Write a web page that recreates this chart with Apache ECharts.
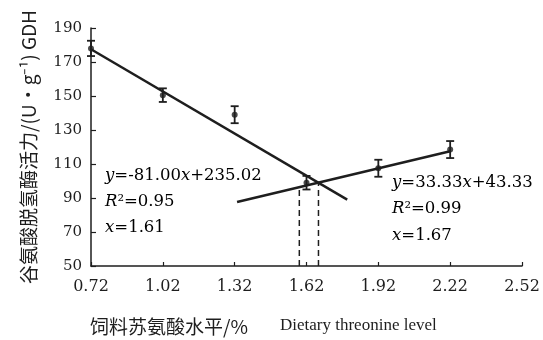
<!DOCTYPE html>
<html><head><meta charset="utf-8">
<script src="https://cdn.jsdelivr.net/npm/echarts@6/dist/echarts.min.js"></script>
<style>html,body{margin:0;padding:0;background:#fff}#c{width:543px;height:340px}</style>
</head><body><div id="c"></div>
<script>
// ---- data ----
const xTicks = [0.72, 1.02, 1.32, 1.62, 1.92, 2.22, 2.52];
const yTicks = [50, 70, 90, 110, 130, 150, 170, 190];
const levels = [0.72, 1.02, 1.32, 1.62, 1.92, 2.22];
const gdh    = [178, 150.5, 139, 99, 107.5, 118.5];
const sd     = [4.5, 4, 5, 4, 5, 5];
const fit1   = [[0.72, 177.5], [1.79, 89]];
const fit2   = [[1.33, 87.7], [2.22, 117.5]];
const breakX = [1.59, 1.67];
const breakY = [97, 99];
const yName  = '谷氨酸脱氢酶活力/(U·g⁻¹) GDH';
const xNameCn = '饲料苏氨酸水平/%';
const xNameEn = 'Dietary threonine level';

const ink = '#1e1e1e';
const serif = 'DejaVu Serif';
const chart = echarts.init(document.getElementById('c'), null, {renderer: 'canvas'});

const errData = levels.map((x, i) => [x, gdh[i] - sd[i], gdh[i] + sd[i]]);
const ptData = levels.map((x, i) => [x, gdh[i]]);

const rich = {
  i: {fontFamily: serif, fontStyle: 'italic', fontSize: 16.5, color: ink},
  n: {fontFamily: serif, fontSize: 16.5, color: ink}
};

const option = {
  backgroundColor: '#fff',
  animation: false,
  grid: {left: 91, right: 21, top: 28, bottom: 74},
  xAxis: {
    type: 'value', min: 0.72, max: 2.52,
    axisLine: {show: true, lineStyle: {color: ink, width: 1.5}},
    axisTick: {show: true, inside: true, length: 4, customValues: xTicks, lineStyle: {color: ink, width: 1.2}},
    axisLabel: {customValues: xTicks, margin: 13, fontFamily: serif, fontSize: 16, color: ink,
      formatter: v => v.toFixed(2)},
    splitLine: {show: false}
  },
  yAxis: {
    type: 'value', min: 50, max: 190,
    name: yName, nameLocation: 'middle', nameRotate: 90, nameGap: 53,
    nameTextStyle: {fontFamily: 'Noto Sans CJK SC', fontSize: 19, color: ink},
    axisLine: {show: true, lineStyle: {color: ink, width: 1.5}},
    axisTick: {show: true, inside: true, length: 5, customValues: yTicks, lineStyle: {color: ink, width: 1.2}},
    axisLabel: {customValues: yTicks, margin: 9, fontFamily: serif, fontSize: 15, color: ink},
    splitLine: {show: false}
  },
  graphic: [
    {type: 'text', left: 90, top: 317, style: {text: xNameCn, font: '19px "Noto Sans CJK SC"', fill: ink}},
    {type: 'text', left: 280, top: 317, style: {text: xNameEn, font: '17px "Liberation Serif"', fill: ink}},
    {type: 'text', left: 105, top: 163, style: {
      text: '{i|y}{n|=-81.00}{i|x}{n|+235.02}\n{i|R}{n|²=0.95}\n{i|x}{n|=1.61}', rich: rich, lineHeight: 26}},
    {type: 'text', left: 392, top: 169, style: {
      text: '{i|y}{n|=33.33}{i|x}{n|+43.33}\n{i|R}{n|²=0.99}\n{i|x}{n|=1.67}', rich: rich, lineHeight: 26.5}}
  ],
  series: [
    {type: 'line', data: fit1, symbol: 'none', lineStyle: {color: ink, width: 2.5}, z: 3},
    {type: 'line', data: fit2, symbol: 'none', lineStyle: {color: ink, width: 2.5}, z: 3},
    {type: 'line', data: [[breakX[0], 50], [breakX[0], breakY[0]]], symbol: 'none',
      lineStyle: {color: ink, width: 1.5, type: [6, 4]}},
    {type: 'line', data: [[breakX[1], 50], [breakX[1], breakY[1]]], symbol: 'none',
      lineStyle: {color: ink, width: 1.5, type: [6, 4]}},
    {type: 'custom', data: errData, z: 4,
      renderItem: function (params, api) {
        const x = api.value(0);
        const top = api.coord([x, api.value(2)]);
        const bot = api.coord([x, api.value(1)]);
        const w = 4;
        const st = {stroke: ink, lineWidth: 1.8};
        return {type: 'group', children: [
          {type: 'line', shape: {x1: top[0], y1: top[1], x2: bot[0], y2: bot[1]}, style: st},
          {type: 'line', shape: {x1: top[0] - w, y1: top[1], x2: top[0] + w, y2: top[1]}, style: st},
          {type: 'line', shape: {x1: bot[0] - w, y1: bot[1], x2: bot[0] + w, y2: bot[1]}, style: st}
        ]};
      }},
    {type: 'scatter', data: ptData, symbol: 'circle', symbolSize: 6, itemStyle: {color: ink}, z: 5}
  ]
};
chart.setOption(option);
</script></body></html>
